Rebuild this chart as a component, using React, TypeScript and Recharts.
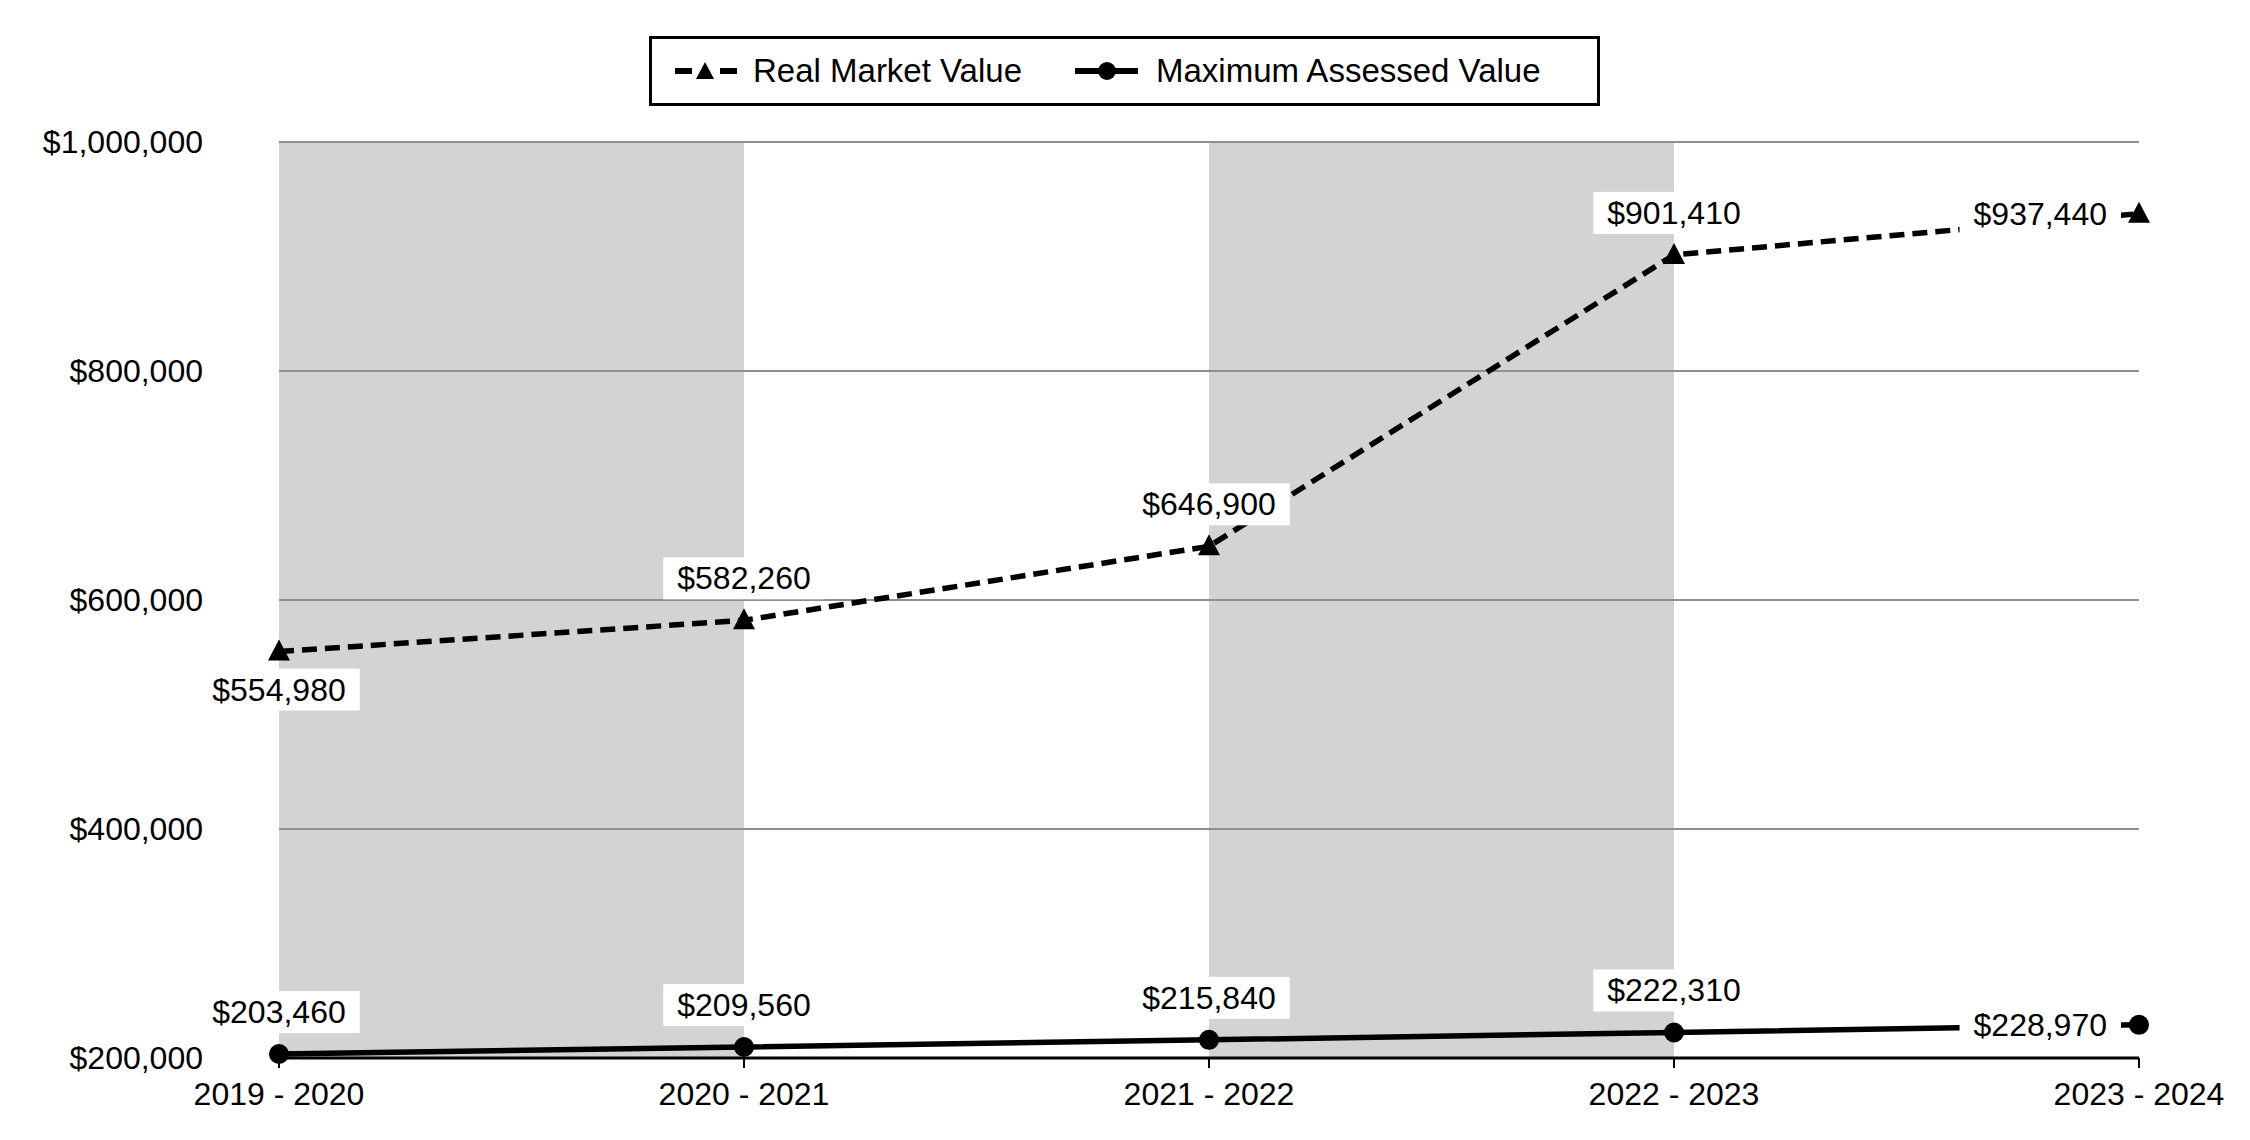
import { LineChart, Line, XAxis, YAxis, CartesianGrid, ReferenceArea, Legend, LabelList } from 'recharts';

const periods = ['2019 - 2020', '2020 - 2021', '2021 - 2022', '2022 - 2023', '2023 - 2024'];
const realMarketValues = [554980, 582260, 646900, 901410, 937440];
const maxAssessedValues = [203460, 209560, 215840, 222310, 228970];
const yTicks = [200000, 400000, 600000, 800000, 1000000];
const shadedBands = [
    ['2019 - 2020', '2020 - 2021'],
    ['2021 - 2022', '2022 - 2023'],
];
const realMarketLabelSides = ['bottom', 'top', 'top', 'top', 'left'];
const maxAssessedLabelSides = ['top', 'top', 'top', 'top', 'left'];

const FONT = '"Liberation Sans", Arial, Helvetica, sans-serif';

const chartData = periods.map((period, i) => ({
    period,
    realMarket: realMarketValues[i],
    maxAssessed: maxAssessedValues[i],
}));

const money = (v: number) => `$${v.toLocaleString('en-US')}`;

// rough Arial advance widths, good enough to size the white label boxes
const textWidth = (s: string, size: number) => {
    let w = 0;
    for (const ch of s) w += ch === ',' ? 0.278 : 0.556;
    return w * size;
};

const makeLabel = (values: number[], sides: string[]) => (props: any) => {
    const x = props.x ?? props.viewBox?.x;
    const y = props.y ?? props.viewBox?.y;
    const value = props.value;
    if (x == null || y == null || value == null) return null;
    const idx = props.index ?? values.indexOf(value);
    const side = sides[idx] ?? 'top';
    const text = money(value);
    const w = textWidth(text, 32);
    const boxW = w + 28;
    const boxH = 42;
    let cx = x;
    let cy = y - 42;
    if (side === 'bottom') cy = y + 38;
    if (side === 'left') {
        cx = x - 32 - w / 2;
        cy = y;
    }
    return (
        <g key={`lbl-${idx}`}>
            <rect x={cx - boxW / 2} y={cy - boxH / 2} width={boxW} height={boxH} fill="#ffffff" />
            <text
                x={cx}
                y={cy}
                textAnchor="middle"
                dominantBaseline="central"
                fontSize={32}
                fontFamily={FONT}
                fill="#000000"
            >
                {text}
            </text>
        </g>
    );
};

const renderTriangle = (p: any) => {
    const { cx, cy, index } = p;
    if (cx == null || cy == null) return <g key={`tri-${index}`} />;
    return (
        <polygon
            key={`tri-${index}`}
            points={`${cx},${cy - 12} ${cx + 11},${cy + 9} ${cx - 11},${cy + 9}`}
            fill="#000000"
        />
    );
};

const renderCircle = (p: any) => {
    const { cx, cy, index } = p;
    if (cx == null || cy == null) return <g key={`dot-${index}`} />;
    return <circle key={`dot-${index}`} cx={cx} cy={cy} r={10} fill="#000000" />;
};

const renderLegend = () => (
    <div
        style={{
            boxSizing: 'border-box',
            width: 951,
            height: 70,
            border: '3px solid #000',
            background: '#fff',
            display: 'flex',
            alignItems: 'center',
            paddingLeft: 23,
            fontFamily: FONT,
            fontSize: 33,
            color: '#000',
        }}
    >
        <svg width={62} height={24} style={{ marginRight: 16 }}>
            <line x1={0} y1={12} x2={17} y2={12} stroke="#000" strokeWidth={6} />
            <polygon points="30,3 39,20 21,20" fill="#000" />
            <line x1={45} y1={12} x2={62} y2={12} stroke="#000" strokeWidth={6} />
        </svg>
        <span>Real Market Value</span>
        <svg width={63} height={24} style={{ marginLeft: 53, marginRight: 18 }}>
            <line x1={0} y1={12} x2={63} y2={12} stroke="#000" strokeWidth={6} />
            <circle cx={32} cy={12} r={9} fill="#000" />
        </svg>
        <span>Maximum Assessed Value</span>
    </div>
);

const AssessmentChart = () => {
    return (
        <div style={{ position: 'absolute', top: 0, left: 0, width: 2250, height: 1140, background: '#fff' }}>
            <LineChart
                width={2250}
                height={1140}
                data={chartData}
                margin={{ top: 142, right: 111, bottom: 22, left: 0 }}
            >
                {shadedBands.map(([from, to]) => (
                    <ReferenceArea
                        key={from}
                        x1={from}
                        x2={to}
                        y1={200000}
                        y2={1000000}
                        fill="#d3d3d3"
                        fillOpacity={1}
                        stroke="none"
                        zIndex={-200}
                        ifOverflow="hidden"
                    />
                ))}
                <CartesianGrid vertical={false} stroke="#8f8f8f" strokeWidth={2} />
                <XAxis
                    dataKey="period"
                    interval={0}
                    height={60}
                    tickSize={10}
                    tickMargin={14}
                    axisLine={{ stroke: '#000', strokeWidth: 3 }}
                    tickLine={{ stroke: '#000', strokeWidth: 2 }}
                    tick={{ fill: '#000', fontSize: 32, fontFamily: FONT }}
                />
                <YAxis
                    width={279}
                    domain={[200000, 1000000]}
                    ticks={yTicks}
                    tickFormatter={money}
                    axisLine={false}
                    tickLine={false}
                    tickSize={0}
                    tickMargin={76}
                    tick={{ fill: '#000', fontSize: 32, fontFamily: FONT }}
                />
                <Legend
                    layout="horizontal"
                    verticalAlign="middle"
                    align="center"
                    wrapperStyle={{ top: 36, left: 649, width: 951, height: 70 }}
                    content={renderLegend}
                />
                <Line
                    type="linear"
                    dataKey="realMarket"
                    name="Real Market Value"
                    stroke="#000"
                    strokeWidth={5.5}
                    strokeDasharray="15 8"
                    dot={renderTriangle}
                    activeDot={false}
                    isAnimationActive={false}
                >
                    <LabelList dataKey="realMarket" content={makeLabel(realMarketValues, realMarketLabelSides)} />
                </Line>
                <Line
                    type="linear"
                    dataKey="maxAssessed"
                    name="Maximum Assessed Value"
                    stroke="#000"
                    strokeWidth={5.5}
                    dot={renderCircle}
                    activeDot={false}
                    isAnimationActive={false}
                >
                    <LabelList dataKey="maxAssessed" content={makeLabel(maxAssessedValues, maxAssessedLabelSides)} />
                </Line>
            </LineChart>
        </div>
    );
};

export default function App() {
    return <AssessmentChart />;
}
